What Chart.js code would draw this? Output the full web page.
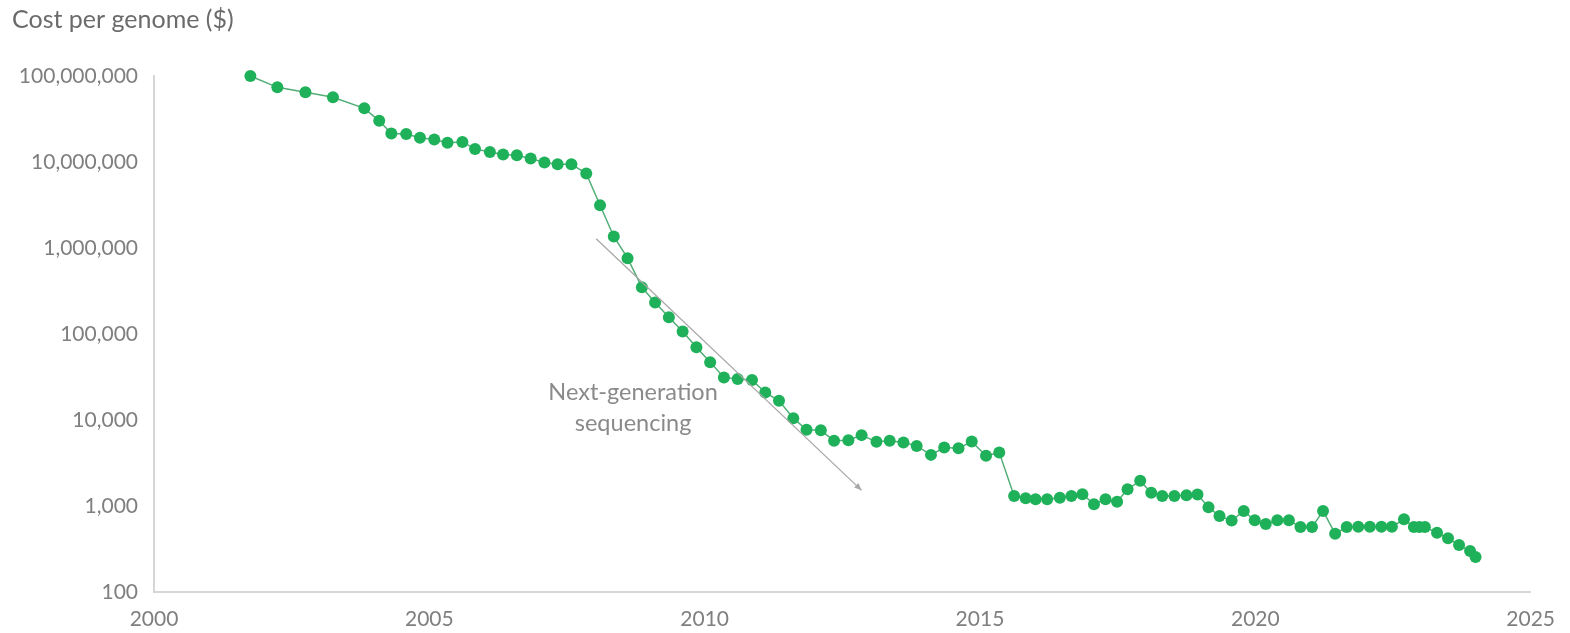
<!DOCTYPE html>
<html>
<head>
<meta charset="utf-8">
<script src="https://cdn.jsdelivr.net/npm/chart.js@4"></script>
<style>
  html, body { margin: 0; padding: 0; background: #fff; }
  #wrap { width: 1570px; height: 633px; }
</style>
</head>
<body>
<div id="wrap"><canvas id="chart" width="1570" height="633"></canvas></div>
<script>
// years (decimal)
const years = [
  2001.75, 2002.24, 2002.75, 2003.25, 2003.82, 2004.09, 2004.31, 2004.58, 2004.83, 2005.09,
  2005.33, 2005.60, 2005.83, 2006.10, 2006.34, 2006.59, 2006.84, 2007.09, 2007.33, 2007.58,
  2007.85, 2008.10, 2008.35, 2008.60, 2008.86, 2009.10, 2009.35, 2009.60, 2009.85, 2010.10,
  2010.35, 2010.60, 2010.86, 2011.10, 2011.35, 2011.61, 2011.85, 2012.11, 2012.35, 2012.61,
  2012.85, 2013.12, 2013.36, 2013.61, 2013.85, 2014.11, 2014.35, 2014.61, 2014.85, 2015.11,
  2015.35, 2015.62, 2015.83, 2016.01, 2016.22, 2016.45, 2016.66, 2016.86, 2017.07, 2017.28,
  2017.49, 2017.68, 2017.91, 2018.11, 2018.31, 2018.53, 2018.75, 2018.95, 2019.15, 2019.35,
  2019.57, 2019.79, 2019.99, 2020.19, 2020.40, 2020.61, 2020.82, 2021.03, 2021.23, 2021.45,
  2021.66, 2021.87, 2022.08, 2022.29, 2022.48, 2022.70, 2022.88, 2022.98, 2023.08, 2023.30,
  2023.50, 2023.70, 2023.90, 2024.00
];

// cost per genome ($)
const costs = [
  100000000, 73800000, 64600000, 56500000, 42100000, 30100000, 21500000, 21100000, 19100000, 18300000,
  16700000, 17100000, 14200000, 13100000, 12200000, 12000000, 11000000, 9860000, 9420000, 9420000,
  7350000, 3140000, 1360000, 762000, 350000, 232000, 157000, 107000, 70000, 46800,
  31300, 30000, 29200, 20900, 16700, 10500, 7690, 7590, 5730, 5830,
  6670, 5570, 5730, 5470, 5000, 3930, 4780, 4700, 5610, 3830,
  4180, 1310, 1230, 1200, 1200, 1250, 1310, 1370, 1050, 1200,
  1120, 1570, 1960, 1430, 1310, 1310, 1330, 1360, 967, 764,
  676, 875, 681, 617, 681, 681, 569, 569, 875, 476,
  569, 575, 575, 575, 575, 700, 569, 569, 569, 489,
  421, 351, 299, 255
];

const yTicks = [100, 1000, 10000, 100000, 1000000, 10000000, 100000000];
const xTicks = [2000, 2005, 2010, 2015, 2020, 2025];

const titleText = 'Cost per genome ($)';
const noteLines = ['Next-generation', 'sequencing'];
const notePos = { x: 2008.7, y: 20800 };
const arrowFrom = { x: 2008.03, y: 1280000 };
const arrowTo = { x: 2012.85, y: 1520 };

const FONT = 'Lato, "Open Sans", sans-serif';

const points = years.map((y, i) => ({ x: y, y: costs[i] }));

const extras = {
  id: 'extras',
  afterDraw(chart) {
    const ctx = chart.ctx;
    const xs = chart.scales.x, ys = chart.scales.y;
    ctx.save();
    // axis title at the top left
    ctx.font = '25px ' + FONT;
    ctx.fillStyle = '#6b6b6b';
    ctx.textAlign = 'left';
    ctx.textBaseline = 'middle';
    ctx.fillText(titleText, 12, 20);

    // annotation text
    ctx.font = '23.5px ' + FONT;
    ctx.fillStyle = '#8a8a8a';
    ctx.textAlign = 'center';
    const nx = xs.getPixelForValue(notePos.x);
    const ny = ys.getPixelForValue(notePos.y);
    noteLines.forEach((t, i) => ctx.fillText(t, nx, ny + i * 31));

    // arrow
    const x1 = xs.getPixelForValue(arrowFrom.x), y1 = ys.getPixelForValue(arrowFrom.y);
    const x2 = xs.getPixelForValue(arrowTo.x), y2 = ys.getPixelForValue(arrowTo.y);
    ctx.strokeStyle = '#a8a8a8';
    ctx.fillStyle = '#a8a8a8';
    ctx.lineWidth = 1.3;
    ctx.beginPath();
    ctx.moveTo(x1, y1);
    ctx.lineTo(x2, y2);
    ctx.stroke();
    const a = Math.atan2(y2 - y1, x2 - x1);
    ctx.beginPath();
    ctx.moveTo(x2, y2);
    ctx.lineTo(x2 - 8 * Math.cos(a - 0.4), y2 - 8 * Math.sin(a - 0.4));
    ctx.lineTo(x2 - 8 * Math.cos(a + 0.4), y2 - 8 * Math.sin(a + 0.4));
    ctx.closePath();
    ctx.fill();
    ctx.restore();
  }
};

new Chart(document.getElementById('chart').getContext('2d'), {
  type: 'scatter',
  data: {
    datasets: [{
      data: points,
      showLine: true,
      clip: false,
      borderColor: '#52ad77',
      borderWidth: 1.5,
      pointRadius: 6,
      pointBackgroundColor: '#1fb159',
      pointBorderColor: '#1fb159',
      pointBorderWidth: 0
    }]
  },
  options: {
    responsive: false,
    animation: false,
    devicePixelRatio: 1,
    layout: { padding: { top: 76, right: 20, left: 0, bottom: 0 } },
    plugins: {
      legend: { display: false },
      tooltip: { enabled: false }
    },
    scales: {
      x: {
        type: 'linear',
        min: 2000,
        max: 2025,
        grid: { display: false, drawTicks: false },
        border: { display: true, color: '#d6d6d6', width: 2 },
        afterBuildTicks: scale => { scale.ticks = xTicks.map(v => ({ value: v })); },
        afterFit: scale => { scale.height = 41; },
        ticks: {
          padding: 15,
          color: '#7f7f7f',
          font: { family: FONT, size: 21 },
          maxRotation: 0,
          callback: v => String(v)
        }
      },
      y: {
        type: 'logarithmic',
        min: 100,
        max: 100000000,
        grid: { display: false, drawTicks: false },
        border: { display: true, color: '#d6d6d6', width: 2 },
        afterBuildTicks: scale => { scale.ticks = yTicks.map(v => ({ value: v })); },
        afterFit: scale => { scale.width = 154; },
        ticks: {
          padding: 16,
          color: '#7f7f7f',
          font: { family: FONT, size: 21 },
          callback: v => Number(v).toLocaleString('en-US')
        }
      }
    }
  },
  plugins: [extras]
});
</script>
</body>
</html>
